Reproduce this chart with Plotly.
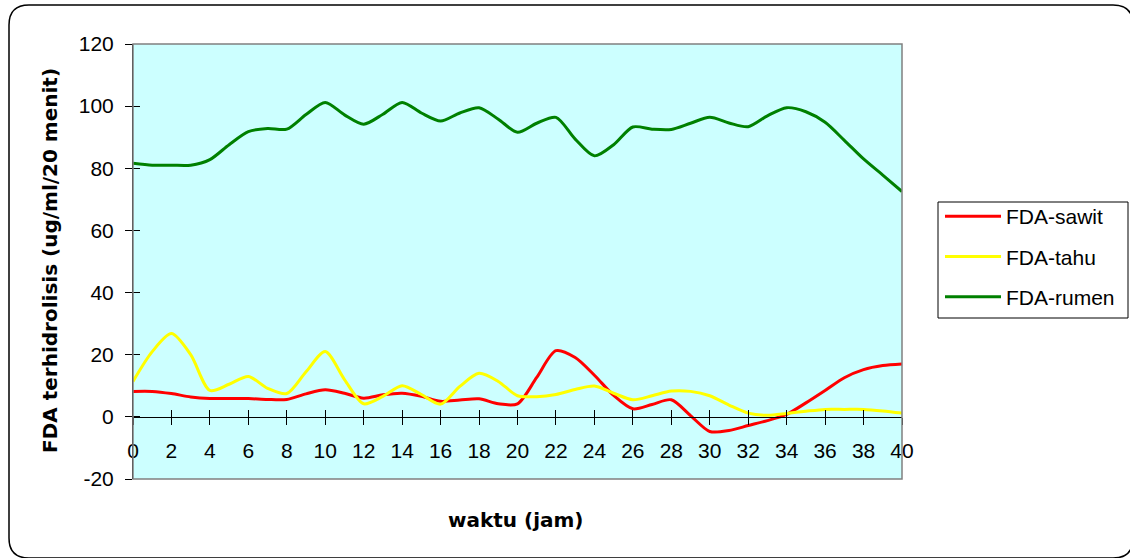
import plotly.graph_objects as go

jam = list(range(0, 41))
fda_sawit = [8.2, 8.2, 7.5, 6.4, 5.9, 5.9, 5.9, 5.6, 5.6, 7.4, 8.7, 7.6, 6.0, 7.1, 7.6, 6.6,
             5.0, 5.4, 5.8, 4.2, 4.2, 12.7, 21.3, 19.1, 13.4, 6.9, 2.6, 4.0, 5.5, 0.4,
             -4.7, -4.4, -2.8, -1.2, 0.8, 4.5, 8.5, 12.6, 15.2, 16.5, 17.0]
fda_tahu = [11.4, 21.0, 26.8, 20.0, 8.5, 10.5, 13.0, 9.2, 7.5, 14.5, 21.0, 12.0, 4.2, 6.6,
            10.0, 7.2, 4.1, 9.8, 14.0, 11.4, 6.8, 6.5, 7.2, 8.8, 9.9, 7.6, 5.5, 6.8, 8.3,
            8.2, 6.8, 3.8, 1.2, 0.5, 1.1, 1.8, 2.4, 2.4, 2.4, 1.9, 1.2]
fda_rumen = [81.6, 81.0, 81.0, 81.0, 82.8, 87.6, 91.8, 92.8, 92.6, 97.3, 101.2, 97.2, 94.2,
             97.4, 101.2, 97.8, 95.2, 97.8, 99.5, 95.8, 91.6, 94.5, 96.4, 89.4, 84.0, 87.6,
             93.3, 92.6, 92.5, 94.5, 96.4, 94.6, 93.4, 96.9, 99.5, 98.2, 94.8, 89.0, 83.0,
             77.8, 72.5]

x_ticks = list(range(0, 41, 2))
y_ticks = list(range(-20, 121, 20))
y_ticktext = [str(v) for v in y_ticks]

series = [("FDA-sawit", fda_sawit, "#FF0000"),
          ("FDA-tahu", fda_tahu, "#FFFF00"),
          ("FDA-rumen", fda_rumen, "#008000")]

W, H = 1130, 558
L, R, T, B = 133, 228, 44, 79
pw, ph = W - L - R, H - T - B

def px(xp):
    return (xp - L) / pw

def py(yp):
    return (H - B - yp) / ph

fig = go.Figure()
for name, vals, col in series:
    fig.add_trace(go.Scatter(x=jam, y=vals, name=name, mode="lines",
                             line=dict(color=col, width=3, shape="spline", smoothing=0.8),
                             legendgroup=name))
# helper trace for the inner half of the crossing tick marks
fig.add_trace(go.Scatter(x=[None], y=[None], xaxis="x2", yaxis="y2",
                         showlegend=False, hoverinfo="skip"))

tickfont = dict(family="Liberation Sans, Arial", size=21, color="black")
xpos = 20 / 140

fig.update_layout(
    width=W, height=H,
    margin=dict(l=L, r=R, t=T, b=B, pad=0, autoexpand=False),
    paper_bgcolor="white",
    plot_bgcolor="#CCFFFF",
    showlegend=True,
    xaxis=dict(range=[0, 40], tickvals=x_ticks, ticks="outside", ticklen=7, tickcolor="black",
               tickwidth=1, showgrid=False, zeroline=False, showline=True, linecolor="black",
               linewidth=1, anchor="free", position=xpos, tickfont=tickfont,
               ticklabelstandoff=8, fixedrange=True),
    yaxis=dict(range=[-20, 120], tickvals=y_ticks, ticktext=y_ticktext, ticks="outside",
               ticklen=7, tickcolor="black",
               tickwidth=1, showgrid=False, zeroline=False, showline=True, linecolor="black",
               linewidth=1, tickfont=tickfont, ticklabelstandoff=7, fixedrange=True),
    xaxis2=dict(range=[0, 40], tickvals=x_ticks, ticks="inside", ticklen=7, tickcolor="black",
                showticklabels=False, showgrid=False, zeroline=False, showline=False,
                anchor="free", position=xpos, overlaying="x", fixedrange=True),
    yaxis2=dict(range=[-20, 120], tickvals=y_ticks, ticks="inside", ticklen=7, tickcolor="black",
                showticklabels=False, showgrid=False, zeroline=False, showline=False,
                anchor="x2", overlaying="y", fixedrange=True),
    legend=dict(x=px(940), y=py(196), xanchor="left", yanchor="top",
                borderwidth=0, bgcolor="rgba(0,0,0,0)",
                font=dict(family="Liberation Sans, Arial", size=21, color="black"),
                tracegroupgap=10, itemwidth=56),
)

# legend frame
fig.add_shape(type="rect", xref="paper", yref="paper", x0=px(938), x1=px(1128),
              y0=py(318), y1=py(202), line=dict(color="black", width=1), fillcolor="white",
              layer="below")

# plot-area border (top, right, bottom) in grey
fig.add_shape(type="rect", xref="paper", yref="paper", x0=0, x1=1, y0=0, y1=1,
              line=dict(color="#808080", width=1.5), layer="above")

# outer rounded frame
x0, x1 = px(9), px(1133)
y0, y1 = py(5), py(558)
rx, ry = 20 / pw, 20 / ph
path = (f"M{x0+rx},{y0} L{x1-rx},{y0} Q{x1},{y0} {x1},{y0-ry} "
        f"L{x1},{y1+ry} Q{x1},{y1} {x1-rx},{y1} "
        f"L{x0+rx},{y1} Q{x0},{y1} {x0},{y1+ry} "
        f"L{x0},{y0-ry} Q{x0},{y0} {x0+rx},{y0} Z")
fig.add_shape(type="path", xref="paper", yref="paper", path=path,
              line=dict(color="black", width=1.5), layer="above")

titlefont = dict(family="DejaVu Sans", size=20, color="black")
fig.add_annotation(text="<b>waktu (jam)</b>", xref="paper", yref="paper",
                   x=px(516), y=py(520), xanchor="center", yanchor="middle",
                   showarrow=False, font=titlefont)
fig.add_annotation(text="<b>FDA terhidrolisis (ug/ml/20 menit)</b>", xref="paper", yref="paper",
                   x=px(50), y=py(261), xanchor="center", yanchor="middle", textangle=-90,
                   showarrow=False, font=titlefont)

fig.write_html("out.html", config={"displayModeBar": False},
               post_script="document.body.style.margin='0';")
